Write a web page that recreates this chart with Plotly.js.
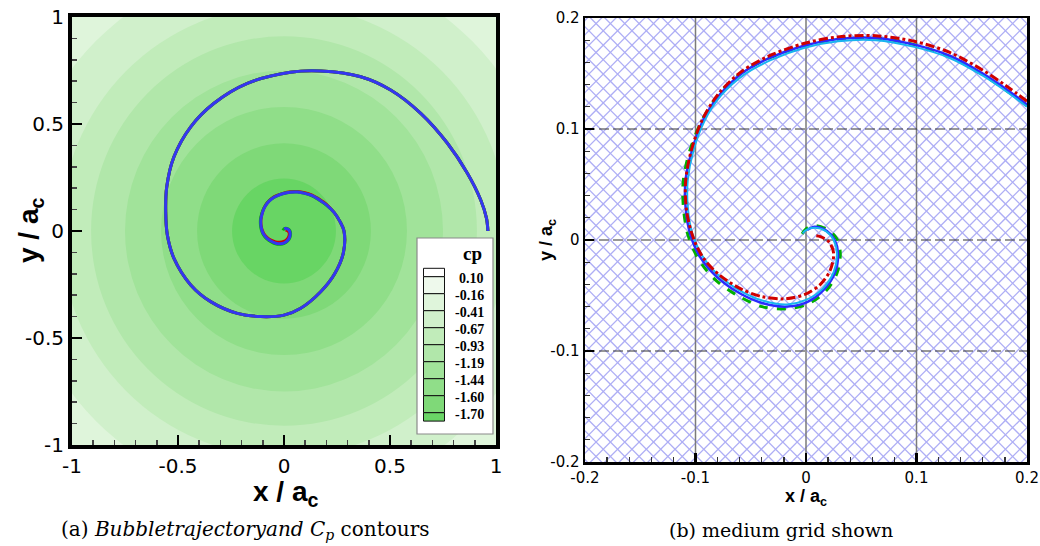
<!DOCTYPE html>
<html>
<head>
<meta charset="utf-8">
<script src="https://cdn.plot.ly/plotly-3.0.1.min.js"></script>
<style>html,body{margin:0;padding:0;background:#fff;}#chart{width:1040px;height:546px;}</style>
</head>
<body>
<div id="chart"></div>
<script>
// ---------- data ----------
// cp contour legend
const CP_LEVELS = ['0.10', '-0.16', '-0.41', '-0.67', '-0.93', '-1.19', '-1.44', '-1.60', '-1.70'];
const LEGEND_COLORS = ['#ffffff', '#eef9ec', '#dff5db', '#d0f0cb', '#c1ecba', '#b1e7aa', '#a1e39a', '#90de89', '#7fd978', '#6ad566'];
// radii of the (circular) cp contour bands in panel (a), outermost first
const BAND_RADII = [1.255, 1.055, 0.91, 0.75, 0.58, 0.41, 0.245];
const BAND_COLORS = ['#d0f0cb', '#c1ecba', '#b1e7aa', '#a1e39a', '#90de89', '#7fd978', '#68d564'];
const CORNER_COLOR = '#dff5db';

// outer part of the bubble trajectory (panel a only)
const OUTER_X = [0.962, 0.955, 0.928, 0.865, 0.771, 0.645, 0.503, 0.362, 0.173, 0.030, -0.173, -0.330, -0.440, -0.519, -0.553, -0.558, -0.550, -0.519, -0.440, -0.346, -0.220, -0.110, 0.000, 0.079, 0.173, 0.239, 0.280, 0.283, 0.263, 0.237];
const OUTER_Y = [0.000, 0.060, 0.145, 0.270, 0.410, 0.550, 0.659, 0.721, 0.748, 0.742, 0.690, 0.597, 0.487, 0.347, 0.207, 0.090, -0.020, -0.128, -0.252, -0.330, -0.385, -0.400, -0.393, -0.361, -0.284, -0.200, -0.102, 0.000, 0.046, 0.086];

// inner part of trajectories (panel b), one per grid
const BLUE_X = [0.200, 0.181, 0.160, 0.130, 0.098, 0.063, 0.029, -0.002, -0.033, -0.057, -0.078, -0.093, -0.103, -0.109, -0.109, -0.105, -0.096, -0.081, -0.060, -0.039, -0.017, 0.001, 0.016, 0.026, 0.029, 0.026, 0.019, 0.008, 0.001];
const BLUE_Y = [0.122, 0.136, 0.150, 0.166, 0.176, 0.182, 0.181, 0.175, 0.164, 0.151, 0.131, 0.108, 0.081, 0.054, 0.030, 0.006, -0.015, -0.033, -0.048, -0.057, -0.060, -0.056, -0.045, -0.030, -0.012, 0.000, 0.008, 0.012, 0.009];
const CYAN_X = [0.200, 0.181, 0.160, 0.130, 0.098, 0.063, 0.029, -0.002, -0.032, -0.056, -0.077, -0.092, -0.102, -0.107, -0.107, -0.103, -0.094, -0.079, -0.059, -0.038, -0.017, 0.000, 0.015, 0.025, 0.028, 0.025, 0.018, 0.008, 0.000, -0.003];
const CYAN_Y = [0.120, 0.134, 0.148, 0.164, 0.174, 0.180, 0.179, 0.173, 0.162, 0.149, 0.130, 0.107, 0.080, 0.054, 0.030, 0.006, -0.014, -0.032, -0.046, -0.055, -0.058, -0.054, -0.044, -0.029, -0.012, 0.000, 0.008, 0.011, 0.009, 0.006];
const GREEN_X = [0.200, 0.181, 0.160, 0.130, 0.098, 0.063, 0.029, -0.002, -0.033, -0.058, -0.079, -0.094, -0.105, -0.111, -0.111, -0.107, -0.098, -0.083, -0.062, -0.040, -0.018, 0.001, 0.018, 0.028, 0.031, 0.028, 0.020, 0.008, 0.000, -0.005];
const GREEN_Y = [0.121, 0.135, 0.149, 0.165, 0.176, 0.182, 0.181, 0.175, 0.164, 0.151, 0.131, 0.108, 0.081, 0.054, 0.030, 0.005, -0.016, -0.035, -0.050, -0.060, -0.062, -0.058, -0.046, -0.030, -0.012, 0.001, 0.009, 0.013, 0.010, 0.003];
const RED_X = [0.200, 0.181, 0.160, 0.130, 0.098, 0.063, 0.029, -0.002, -0.033, -0.058, -0.079, -0.094, -0.104, -0.109, -0.108, -0.102, -0.093, -0.079, -0.059, -0.040, -0.020, -0.001, 0.013, 0.022, 0.025, 0.021, 0.013, 0.007];
const RED_Y = [0.125, 0.139, 0.153, 0.169, 0.179, 0.184, 0.183, 0.177, 0.166, 0.152, 0.132, 0.108, 0.080, 0.052, 0.026, 0.002, -0.016, -0.031, -0.044, -0.051, -0.053, -0.049, -0.040, -0.027, -0.012, -0.002, 0.003, 0.004];

const LEFT_TICKS = [-1, -0.5, 0, 0.5, 1];
const LEFT_TICK_TEXT = ['-1', '-0.5', '0', '0.5', '1'];
const RIGHT_TICKS = [-0.2, -0.1, 0, 0.1, 0.2];
const RIGHT_TICK_TEXT = ['-0.2', '-0.1', '0', '0.1', '0.2'];
const GRID_VALUES = [-0.1, 0, 0.1];
const MESH_STEP = 0.013;   // approximate cell size of the medium grid

// ---------- helpers ----------
const W = 1040, H = 546;
const px = x => x / W;
const py = y => 1 - y / H;
const smooth = {shape: 'spline', smoothing: 0.9};

const traces = [];

// panel (a): trajectories, red & green below blue
traces.push({x: OUTER_X.concat(RED_X), y: OUTER_Y.concat(RED_Y), xaxis: 'x', yaxis: 'y', mode: 'lines',
  line: Object.assign({color: '#d00000', width: 3}, smooth), hoverinfo: 'skip'});
traces.push({x: OUTER_X.concat(GREEN_X), y: OUTER_Y.concat(GREEN_Y), xaxis: 'x', yaxis: 'y', mode: 'lines',
  line: Object.assign({color: '#00b000', width: 3}, smooth), hoverinfo: 'skip'});
traces.push({x: OUTER_X.concat(BLUE_X), y: OUTER_Y.concat(BLUE_Y), xaxis: 'x', yaxis: 'y', mode: 'lines',
  line: Object.assign({color: '#3535f0', width: 3}, smooth), hoverinfo: 'skip'});

// panel (b): background mesh (approximation)
const mx = [], my = [];
for (let c = -0.45; c <= 0.45; c += MESH_STEP) {
  mx.push(-0.3, 0.3, null); my.push(c + 0.3, c - 0.3, null);
  mx.push(-0.3, 0.3, null); my.push(-0.3 - c, 0.3 - c, null);
}
traces.push({x: mx, y: my, xaxis: 'x2', yaxis: 'y2', mode: 'lines',
  line: {color: '#aeaef5', width: 1.3}, hoverinfo: 'skip', connectgaps: false});
// grid lines (above mesh)
GRID_VALUES.forEach(v => {
  traces.push({x: [v, v], y: [-0.2, 0.2], xaxis: 'x2', yaxis: 'y2', mode: 'lines',
    line: {color: '#7a7a7a', width: 1.5}, hoverinfo: 'skip'});
  traces.push({x: [-0.2, 0.2], y: [v, v], xaxis: 'x2', yaxis: 'y2', mode: 'lines',
    line: {color: '#333333', width: 1, dash: '10px,4px'}, hoverinfo: 'skip'});
});
// trajectories
traces.push({x: GREEN_X, y: GREEN_Y, xaxis: 'x2', yaxis: 'y2', mode: 'lines',
  line: Object.assign({color: '#00b000', width: 3, dash: 'dash'}, smooth), hoverinfo: 'skip'});
traces.push({x: BLUE_X, y: BLUE_Y, xaxis: 'x2', yaxis: 'y2', mode: 'lines',
  line: Object.assign({color: '#2a2aff', width: 2.5}, smooth), hoverinfo: 'skip'});
traces.push({x: CYAN_X, y: CYAN_Y, xaxis: 'x2', yaxis: 'y2', mode: 'lines',
  line: Object.assign({color: '#18b4f0', width: 2}, smooth), hoverinfo: 'skip'});
traces.push({x: RED_X, y: RED_Y, xaxis: 'x2', yaxis: 'y2', mode: 'lines',
  line: Object.assign({color: '#d00000', width: 3, dash: 'dashdot'}, smooth), hoverinfo: 'skip'});

// ---------- shapes ----------
const shapes = [];
shapes.push({type: 'rect', xref: 'x', yref: 'y', x0: -1, x1: 1, y0: -1, y1: 1,
  fillcolor: CORNER_COLOR, line: {width: 0}, layer: 'below'});
BAND_RADII.forEach((r, i) => {
  shapes.push({type: 'circle', xref: 'x', yref: 'y', x0: -r, x1: r, y0: -r, y1: r,
    fillcolor: BAND_COLORS[i], line: {width: 0}, layer: 'below'});
});

// legend box (panel a)
const LB = {x0: 417, x1: 493, y0: 238, y1: 434, swX0: 423.5, swX1: 444.5, swTop: 268.3, half: 8.4, step: 17};
shapes.push({type: 'rect', xref: 'paper', yref: 'paper', x0: px(LB.x0), x1: px(LB.x1), y0: py(LB.y1), y1: py(LB.y0),
  fillcolor: '#ffffff', line: {color: '#8a8a8a', width: 1.2}, layer: 'above'});
const bounds = [LB.swTop, LB.swTop + LB.half];
for (let i = 1; i < LEGEND_COLORS.length - 1; i++) bounds.push(bounds[bounds.length - 1] + LB.step);
bounds.push(bounds[bounds.length - 1] + LB.half);
LEGEND_COLORS.forEach((c, i) => {
  shapes.push({type: 'rect', xref: 'paper', yref: 'paper', x0: px(LB.swX0), x1: px(LB.swX1),
    y0: py(bounds[i + 1]), y1: py(bounds[i]), fillcolor: c, line: {color: '#111', width: 1}, layer: 'above'});
});

// ---------- annotations ----------
const annotations = [];
annotations.push({xref: 'paper', yref: 'paper', x: px(472), y: py(253), text: '<b>cp</b>', showarrow: false,
  font: {family: 'Liberation Serif', size: 19, color: '#000'}, xanchor: 'center', yanchor: 'middle'});
CP_LEVELS.forEach((t, i) => {
  annotations.push({xref: 'paper', yref: 'paper', x: px(486), y: py(bounds[i + 1] + 1.5), text: '<b>' + t + '</b>',
    showarrow: false, font: {family: 'Liberation Serif', size: 14, color: '#000'}, xanchor: 'right', yanchor: 'middle'});
});
// captions
annotations.push({xref: 'paper', yref: 'paper', x: px(245), y: py(530),
  text: '(a) <i>Bubbletrajectoryand C<sub>p</sub></i> contours', showarrow: false,
  font: {family: 'DejaVu Serif', size: 20, color: '#000'}, xanchor: 'center', yanchor: 'middle'});
annotations.push({xref: 'paper', yref: 'paper', x: px(781), y: py(530),
  text: '(b) medium grid shown', showarrow: false,
  font: {family: 'DejaVu Serif', size: 19, color: '#000'}, xanchor: 'center', yanchor: 'middle'});
// axis titles
annotations.push({xref: 'paper', yref: 'paper', x: px(285), y: py(493), text: '<b>x / a<sub>c</sub></b>',
  showarrow: false, font: {family: 'Liberation Sans', size: 28, color: '#000'}, xanchor: 'center', yanchor: 'middle'});
annotations.push({xref: 'paper', yref: 'paper', x: px(30), y: py(231), text: '<b>y / a<sub>c</sub></b>', textangle: -90,
  showarrow: false, font: {family: 'Liberation Sans', size: 28, color: '#000'}, xanchor: 'center', yanchor: 'middle'});
annotations.push({xref: 'paper', yref: 'paper', x: px(806), y: py(497), text: '<b>x / a<sub>c</sub></b>',
  showarrow: false, font: {family: 'Liberation Sans', size: 18, color: '#000'}, xanchor: 'center', yanchor: 'middle'});
annotations.push({xref: 'paper', yref: 'paper', x: px(547), y: py(240), text: '<b>y / a<sub>c</sub></b>', textangle: -90,
  showarrow: false, font: {family: 'Liberation Sans', size: 18, color: '#000'}, xanchor: 'center', yanchor: 'middle'});

// ---------- axes ----------
const leftAxis = (extra) => Object.assign({
  range: [-1, 1], tickmode: 'array', tickvals: LEFT_TICKS, ticktext: LEFT_TICK_TEXT,
  ticks: 'inside', ticklen: 10, tickwidth: 2.5, tickcolor: '#000',
  minor: {dtick: 0.1, ticks: 'inside', ticklen: 5, tickwidth: 1.5, tickcolor: '#444', showgrid: false},
  showline: true, linewidth: 4, linecolor: '#000', mirror: true, showgrid: false, zeroline: false,
  tickfont: {family: 'DejaVu Sans', size: 20, color: '#000'}, automargin: false, fixedrange: true
}, extra);
const rightAxis = (extra) => Object.assign({
  range: [-0.2, 0.2], tickmode: 'array', tickvals: RIGHT_TICKS, ticktext: RIGHT_TICK_TEXT,
  ticks: 'inside', ticklen: 9, tickwidth: 2.5, tickcolor: '#000',
  minor: {dtick: 0.02, ticks: 'inside', ticklen: 5, tickwidth: 1.2, tickcolor: '#333', showgrid: false},
  showline: true, linewidth: 2.5, linecolor: '#000', mirror: true, showgrid: false, zeroline: false,
  tickfont: {family: 'DejaVu Sans', size: 15, color: '#000'}, automargin: false, fixedrange: true
}, extra);

const layout = {
  width: W, height: H, margin: {l: 0, r: 0, t: 0, b: 0}, paper_bgcolor: '#ffffff', plot_bgcolor: '#ffffff',
  showlegend: false,
  xaxis: leftAxis({domain: [px(72), px(496)], anchor: 'y'}),
  yaxis: leftAxis({domain: [py(445), py(17)], anchor: 'x'}),
  xaxis2: rightAxis({domain: [px(585), px(1027)], anchor: 'y2'}),
  yaxis2: rightAxis({domain: [py(462), py(18)], anchor: 'x2'}),
  shapes: shapes, annotations: annotations
};

Plotly.newPlot('chart', traces, layout, {staticPlot: true, displayModeBar: false});
</script>
</body>
</html>
